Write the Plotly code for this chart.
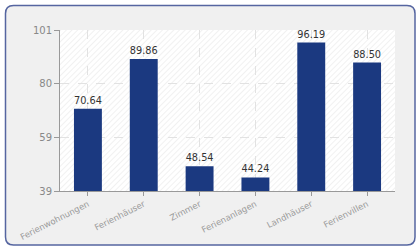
import base64
import plotly.graph_objects as go

categories = ["Ferienwohnungen", "Ferienhäuser", "Zimmer", "Ferienanlagen", "Landhäuser", "Ferienvillen"]
values = [70.64, 89.86, 48.54, 44.24, 96.19, 88.50]
y_tickvals = [39, 59.667, 80.333, 101]
y_ticktext = ["39", "59", "80", "101"]

W, H = 420, 250
L, R, T, B = 60, 25, 30, 59
PW, PH = W - L - R, H - T - B

def px(x):
    return (x - L) / PW

def py(y):
    return (H - B - y) / PH

def rounded(x0, y0, x1, y1, r):
    return (f"M{px(x0 + r)},{py(y0)} L{px(x1 - r)},{py(y0)} Q{px(x1)},{py(y0)} {px(x1)},{py(y0 + r)} "
            f"L{px(x1)},{py(y1 - r)} Q{px(x1)},{py(y1)} {px(x1 - r)},{py(y1)} "
            f"L{px(x0 + r)},{py(y1)} Q{px(x0)},{py(y1)} {px(x0)},{py(y1 - r)} "
            f"L{px(x0)},{py(y0 + r)} Q{px(x0)},{py(y0)} {px(x0 + r)},{py(y0)} Z")

svg = (f"<svg xmlns='http://www.w3.org/2000/svg' width='{PW}' height='{PH}'>"
       "<defs><pattern id='p' width='4' height='4' patternUnits='userSpaceOnUse' patternTransform='rotate(45)'>"
       "<line x1='0' y1='0' x2='0' y2='4' stroke='#e9e9e9' stroke-width='1.3'/></pattern></defs>"
       "<rect width='100%' height='100%' fill='#ffffff'/>"
       "<rect width='100%' height='100%' fill='url(#p)'/></svg>")
src = "data:image/svg+xml;base64," + base64.b64encode(svg.encode()).decode()

fig = go.Figure()
fig.add_trace(go.Bar(
    x=categories, y=values, width=0.5,
    marker=dict(color="#1b3980", line=dict(width=0)),
    text=[f"{v:.2f}" for v in values], textposition="outside",
    textfont=dict(family="DejaVu Sans", size=10, color="#333333"),
    cliponaxis=False,
))

ring = rounded(5.5, 5.5, 415, 245, 8) + f" M{px(L)},{py(T)} L{px(L+PW)},{py(T)} L{px(L+PW)},{py(T+PH)} L{px(L)},{py(T+PH)} Z"

fig.update_layout(
    width=W, height=H,
    margin=dict(l=L, r=R, t=T, b=B, autoexpand=False),
    paper_bgcolor="#ffffff", plot_bgcolor="#ffffff",
    showlegend=False,
    font=dict(family="DejaVu Sans"),
    images=[dict(source=src, xref="paper", yref="paper", x=0, y=1, sizex=1, sizey=1,
                 sizing="stretch", xanchor="left", yanchor="top", layer="below")],
    shapes=[
        dict(type="path", xref="paper", yref="paper", path=ring, fillcolor="#f0f0f0",
             fillrule="evenodd", line=dict(width=0), layer="below"),
        dict(type="path", xref="paper", yref="paper", path=rounded(5.5, 5.5, 415, 245, 8),
             line=dict(color="#5565a0", width=1.5), layer="above"),
    ],
    xaxis=dict(showline=True, linecolor="#999999", linewidth=1, automargin=False,
               ticks="outside", ticklen=4, tickcolor="#999999",
               showgrid=True, gridcolor="#e2e2e2", griddash="dash",
               tickangle=-27, tickfont=dict(size=8.5, color="#999999")),
    yaxis=dict(range=[39, 101], tickvals=y_tickvals, ticktext=y_ticktext, automargin=False,
               showline=True, linecolor="#999999", linewidth=1,
               ticks="outside", ticklen=5, tickcolor="#999999",
               showgrid=True, gridcolor="#e2e2e2", griddash="dash", zeroline=False,
               tickfont=dict(size=10, color="#888888")),
    bargap=0.5,
)

fig.write_html("out.html")
